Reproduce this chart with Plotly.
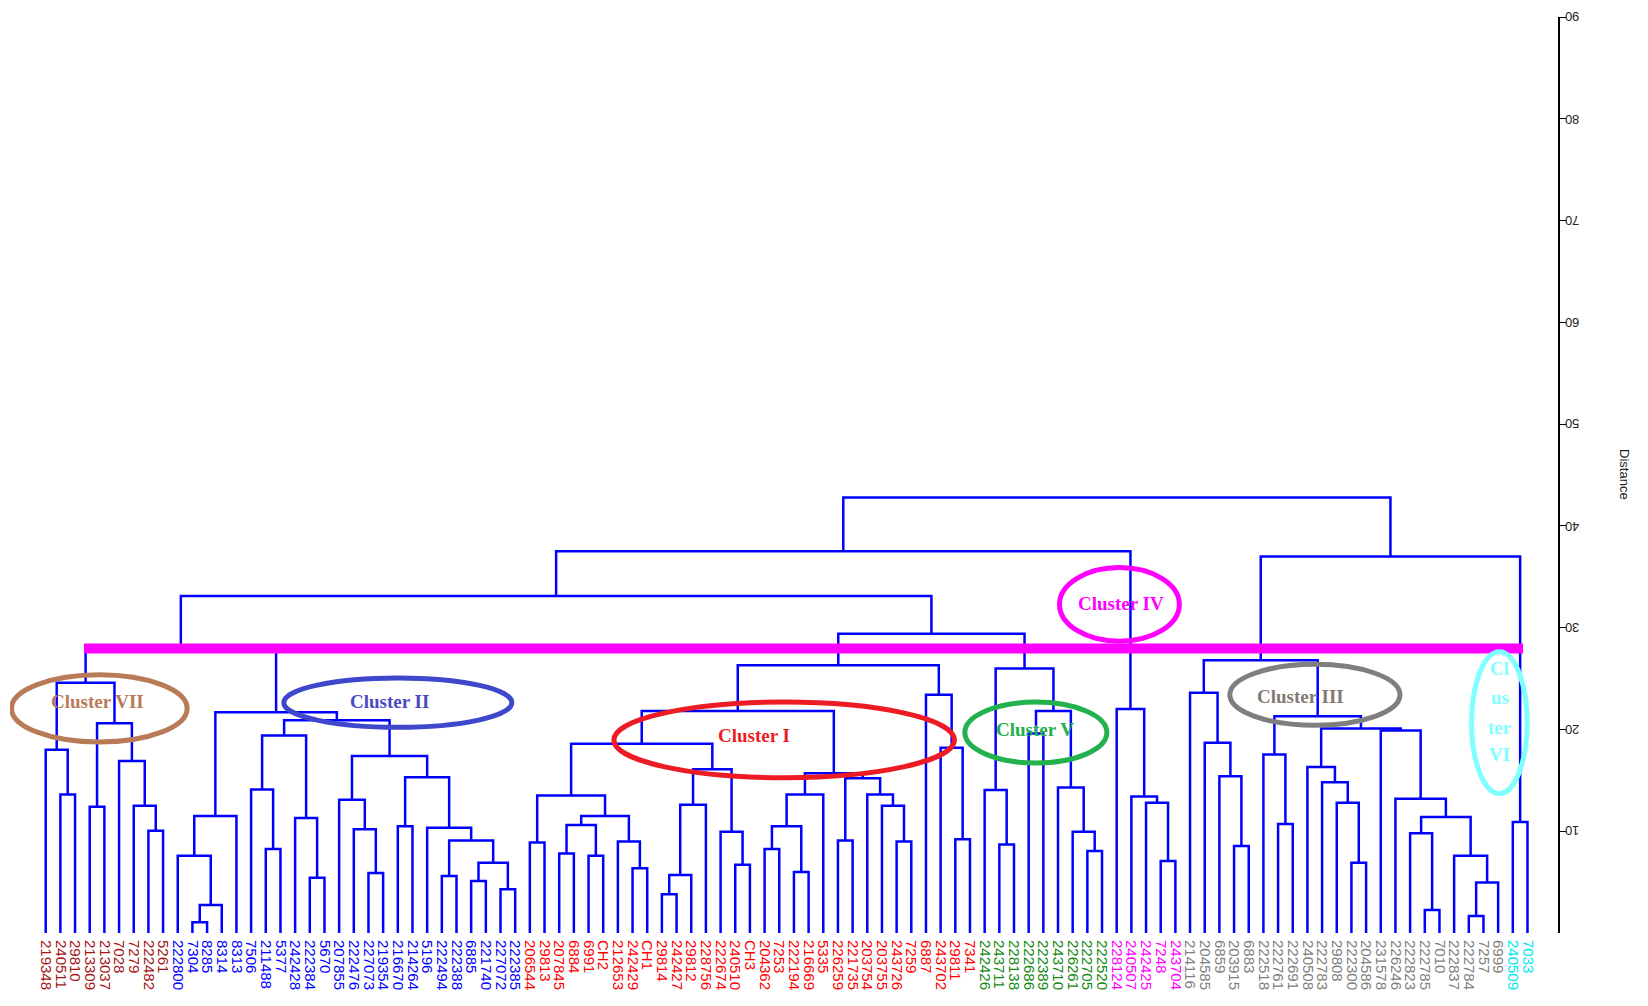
import plotly.graph_objects as go

# ---------------- leaf labels per cluster (left to right) ----------------
cluster_vii = ["219348", "240511", "29810", "213309", "213037", "7028", "7279", "222482", "5261"]
cluster_ii = ["222800", "7304", "8285", "8314", "8313", "7506", "211488", "5377", "242428", "222384",
              "5670", "207855", "222476", "227073", "219354", "216670", "214264", "5196", "222494",
              "222388", "6885", "221740", "227072", "222385"]
cluster_i = ["206544", "29813", "207845", "6884", "6991", "CH2", "212653", "242429", "CH1", "29814",
             "242427", "29812", "228756", "222674", "240510", "CH3", "204362", "7253", "222194",
             "216669", "5335", "226259", "221735", "203754", "203755", "243726", "7259", "6887",
             "243702", "29811", "7341"]
cluster_v = ["242426", "243711", "228138", "222686", "222389", "243710", "226261", "222705", "222520"]
cluster_iv = ["228124", "240507", "242425", "7248", "243704"]
cluster_iii = ["214116", "204585", "6859", "203915", "6883", "222518", "222761", "222691", "240508",
               "222783", "29808", "222300", "204586", "231578", "226246", "222823", "222785", "7010",
               "222837", "222784", "7257", "6999"]
cluster_vi = ["240509", "7033"]

label_colors = ["#A31515", "#0000FF", "#FF0000", "#138A13", "#FF00FF", "#808080", "#00E8F0"]
clusters = [cluster_vii, cluster_ii, cluster_i, cluster_v, cluster_iv, cluster_iii, cluster_vi]

# ---------------- linkage: (node, left child, right child, distance) ----------------
# integer children are leaf positions, strings are earlier nodes
merges = [
    ("n1", 1, 2, 13.6), ("n2", 0, "n1", 18.0), ("n3", 3, 4, 12.4), ("n4", 7, 8, 10.05),
    ("n5", 6, "n4", 12.5), ("n6", 5, "n5", 16.9), ("n7", "n3", "n6", 20.6), ("n8", "n2", "n7", 24.6),
    ("b1", 10, 11, 1.05), ("b2", "b1", 12, 2.75), ("b3", 9, "b2", 7.6), ("b4", "b3", 13, 11.5),
    ("b5", 15, 16, 8.25), ("b6", 14, "b5", 14.1), ("b7", 18, 19, 5.43), ("b8", 17, "b7", 11.3),
    ("b9", "b6", "b8", 19.4), ("b10", 22, 23, 5.9), ("b11", 21, "b10", 10.2), ("b12", 20, "b11", 13.1),
    ("b13", 24, 25, 10.5), ("b14", 27, 28, 5.6), ("b15", 29, 30, 5.1), ("b16", 31, 32, 4.3),
    ("b17", "b15", "b16", 6.9), ("b18", "b14", "b17", 9.1), ("b19", 26, "b18", 10.35),
    ("b20", "b13", "b19", 15.3), ("b21", "b12", "b20", 17.4), ("b22", "b9", "b21", 20.9),
    ("b23", "b4", "b22", 21.7), ("g1", "n8", "b23", 27.9),
    ("r1", 33, 34, 8.9), ("r2", 35, 36, 7.8), ("r3", 37, 38, 7.6), ("r4", "r2", "r3", 10.6),
    ("r5", 40, 41, 6.35), ("r6", 39, "r5", 9.0), ("r7", "r4", "r6", 11.5), ("r8", "r1", "r7", 13.5),
    ("r9", 42, 43, 3.8), ("r10", "r9", 44, 5.7), ("r11", "r10", 45, 12.6), ("r12", 47, 48, 6.7),
    ("r13", 46, "r12", 9.95), ("r14", "r11", "r13", 16.1), ("r15", "r8", "r14", 18.6),
    ("r16", 49, 50, 8.25), ("r17", 51, 52, 6.0), ("r18", "r16", "r17", 10.5), ("r19", "r18", 53, 13.6),
    ("r20", 54, 55, 9.1), ("r21", 58, 59, 9.0), ("r22", 57, "r21", 12.5), ("r23", 56, "r22", 13.6),
    ("r24", "r20", "r23", 15.2), ("r25", "r19", "r24", 15.7), ("r26", "r15", "r25", 21.8),
    ("r27", 62, 63, 9.2), ("r28", 61, "r27", 18.2), ("r29", 60, "r28", 23.4), ("r30", "r26", "r29", 26.3),
    ("v1", 65, 66, 8.7), ("v2", 64, "v1", 14.05), ("v3", 67, 68, 19.6), ("v4", 71, 72, 8.05),
    ("v5", 70, "v4", 9.95), ("v6", 69, "v5", 14.3), ("v7", "v3", "v6", 21.8), ("v8", "v2", "v7", 26.0),
    ("g2", "r30", "v8", 29.4), ("g3", "g1", "g2", 33.1),
    ("m1", 76, 77, 7.07), ("m2", 75, "m1", 12.8), ("m3", 74, "m2", 13.4), ("m4", 73, "m3", 22.0),
    ("g4", "g3", "m4", 37.5),
    ("c1", 81, 82, 8.55), ("c2", 80, "c1", 15.4), ("c3", 79, "c2", 18.7), ("c4", 78, "c3", 23.6),
    ("c5", 84, 85, 10.7), ("c6", 83, "c5", 17.55), ("c7", 89, 90, 6.9), ("c8", 88, "c7", 12.8),
    ("c9", 87, "c8", 14.8), ("c10", 86, "c9", 16.3), ("c11", 94, 95, 2.26), ("c12", 93, "c11", 9.8),
    ("c13", 97, 98, 1.67), ("c14", "c13", 99, 4.95), ("c15", 96, "c14", 7.6), ("c16", "c12", "c15", 11.4),
    ("c17", 92, "c16", 13.2), ("c18", 91, "c17", 19.9), ("c19", "c10", "c18", 20.1),
    ("c20", "c6", "c19", 21.3), ("c21", "c4", "c20", 26.8),
    ("s1", 100, 101, 10.9), ("g5", "c21", "s1", 37.0),
    ("root", "g4", "g5", 42.8),
]

# cluster annotations
cluster_names = ["Cluster VII", "Cluster II", "Cluster I", "Cluster V", "Cluster IV", "Cluster III"]
cluster_ring_colors = ["#B97A57", "#3F48CC", "#ED1C24", "#22B14C", "#FF00FF", "#7F7F7F"]
cluster_text_colors = ["#B97A57", "#4A4AC0", "#ED1C24", "#22B14C", "#FF00FF", "#857A70"]
ring_x = [(-2.33, 9.64), (16.23, 31.77), (38.73, 61.94), (62.65, 72.33), (69.1, 77.27), (80.71, 92.31)]
ring_y = [(18.76, 25.37), (20.21, 25.06), (15.26, 22.69), (16.7, 22.69), (28.67, 35.9), (20.41, 26.4)]
text_xy = [(3.55, 22.7), (23.4, 22.7), (48.3, 19.4), (67.4, 20.0), (73.3, 32.4), (85.5, 23.2)]
vi_lines = ["Cl", "us", "ter", "VI"]
vi_line_y = [26.0, 23.1, 20.2, 17.5]
vi_ring = ((97.19, 100.98), (13.7, 27.64))
cut_level = 27.95
cut_span = (2.61, 100.7)
y_ticks = [10, 20, 30, 40, 50, 60, 70, 80, 90]

# ---------------- build the dendrogram ----------------
leaf_labels, leaf_colors = [], []
for cl, col in zip(clusters, label_colors):
    leaf_labels += cl
    leaf_colors += [col] * len(cl)
n_leaves = len(leaf_labels)

pos = {i: float(i) for i in range(n_leaves)}
hgt = {i: 0.0 for i in range(n_leaves)}
xs, ys = [], []
for name, a, b, h in merges:
    xa, xb = pos[a], pos[b]
    xs += [xa, xa, xb, xb, None]
    ys += [hgt[a], h, h, hgt[b], None]
    pos[name] = (xa + xb) / 2
    hgt[name] = h

fig = go.Figure()
fig.add_trace(go.Scatter(x=xs, y=ys, mode="lines", line=dict(color="#0000FF", width=2.5),
                         hoverinfo="skip", showlegend=False))

serif = "Liberation Serif"
shapes = [dict(type="line", xref="x", yref="y", x0=cut_span[0], x1=cut_span[1], y0=cut_level,
               y1=cut_level, line=dict(color="#FF00FF", width=10))]
annotations = []
for name, rc, tc, (x0, x1), (y0, y1), (tx, ty) in zip(cluster_names, cluster_ring_colors,
                                                       cluster_text_colors, ring_x, ring_y, text_xy):
    shapes.append(dict(type="circle", xref="x", yref="y", x0=x0, x1=x1, y0=y0, y1=y1,
                       line=dict(color=rc, width=5)))
    annotations.append(dict(x=tx, y=ty, xref="x", yref="y", text=f"<b>{name}</b>", showarrow=False,
                            font=dict(family=serif, size=19, color=tc)))
shapes.append(dict(type="circle", xref="x", yref="y", x0=vi_ring[0][0], x1=vi_ring[0][1],
                   y0=vi_ring[1][0], y1=vi_ring[1][1], line=dict(color="#7FFFFF", width=5)))
for t, ty in zip(vi_lines, vi_line_y):
    annotations.append(dict(x=99.12, y=ty, xref="x", yref="y", text=f"<b>{t}</b>", showarrow=False,
                            font=dict(family=serif, size=19, color="#7FFFFF")))
# rotated distance tick labels and axis title
for v in y_ticks:
    annotations.append(dict(x=1.0153, y=v, xref="paper", yref="y", text=str(v), showarrow=False,
                            textangle=180, font=dict(family="Liberation Sans", size=13, color="#222222")))
annotations.append(dict(x=1.0494, y=0.5, xref="paper", yref="paper", text="Distance", showarrow=False,
                        textangle=90, font=dict(family="Liberation Sans", size=13, color="#222222")))

ticktext = [f'<span style="color:{c}">{t}</span>' for t, c in zip(leaf_labels, leaf_colors)]

fig.update_layout(
    width=1632, height=990,
    margin=dict(l=2, r=82, t=9, b=65),
    paper_bgcolor="white", plot_bgcolor="white",
    shapes=shapes, annotations=annotations,
    xaxis=dict(range=[-2.434, 103.08], tickmode="array", tickvals=list(range(n_leaves)),
               ticktext=ticktext, tickangle=90, showgrid=False, zeroline=False, showline=False,
               ticks="", ticklabelstandoff=6, tickfont=dict(family="Liberation Sans", size=15)),
    yaxis=dict(range=[0, 90], side="right", showgrid=False, zeroline=False, showline=True,
               linecolor="black", linewidth=1.5, ticks="outside", ticklen=6, tickcolor="black",
               tickvals=y_ticks, showticklabels=False),
)

fig.write_html("out.html", config={"displayModeBar": False})
